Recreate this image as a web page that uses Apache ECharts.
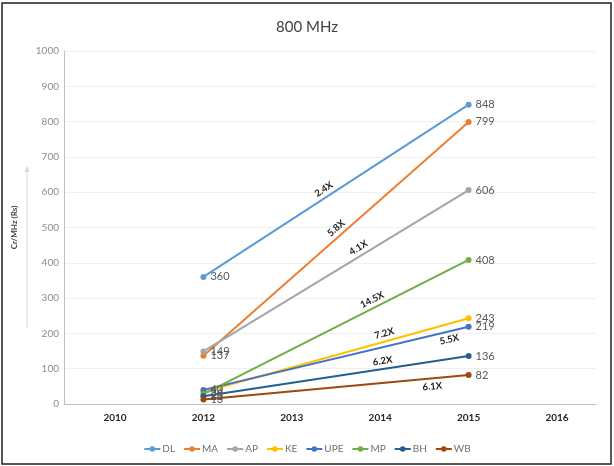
<!DOCTYPE html>
<html>
<head>
<meta charset="utf-8">
<script src="https://cdn.jsdelivr.net/npm/echarts@6/dist/echarts.min.js"></script>
<style>html,body{margin:0;padding:0;background:#fff}#c{width:614px;height:466px}</style>
</head>
<body>
<div id="c"></div>
<script>
// ---- data ----
const years = ['2010', '2012', '2013', '2014', '2015', '2016'];
const seriesNames = ['DL', 'MA', 'AP', 'KE', 'UPE', 'MP', 'BH', 'WB'];
const values2012 = [360, 137, 149, 34, 40, 28, 22, 13];
const values2015 = [848, 799, 606, 243, 219, 408, 136, 82];
const growthLabels = ['2.4X', '5.8X', '4.1X', '7.2X', '5.5X', '14.5X', '6.2X', '6.1X'];
const yTicks = [0, 100, 200, 300, 400, 500, 600, 700, 800, 900, 1000];

// ---- styling / placement (not data) ----
const colors = ['#5B9BD5', '#ED7D31', '#A5A5A5', '#FFC000', '#4472C4', '#70AD47', '#255E91', '#9E480E'];
const growthLabelAt = [0.47, 0.52, 0.6, 0.69, 0.92, 0.65, 0.68, 0.86];
const growthLabelBelow = [false, false, false, false, true, false, false, true];
const FONT = 'Lato, "Open Sans", sans-serif';

const i2012 = years.indexOf('2012');
const i2015 = years.indexOf('2015');

const series = seriesNames.map((name, k) => {
  const v0 = values2012[k], v1 = values2015[k];
  const t = growthLabelAt[k], d = 0.08;
  const p = tt => [i2012 + (i2015 - i2012) * tt, v0 + (v1 - v0) * tt];
  return {
    name,
    type: 'line',
    data: [[i2012, v0], [i2015, v1]],
    symbol: 'circle',
    symbolSize: 6,
    lineStyle: { width: 2, color: colors[k] },
    itemStyle: { color: colors[k] },
    label: {
      show: true, position: 'right', distance: 4,
      color: '#595959', fontSize: 11, fontFamily: FONT,
      formatter: pr => pr.value[1]
    },
    markLine: {
      silent: true,
      symbol: 'none',
      lineStyle: { color: 'rgba(0,0,0,0)', width: 1, type: 'solid' },
      label: {
        show: true,
        position: growthLabelBelow[k] ? 'insideMiddleBottom' : 'middle',
        formatter: growthLabels[k],
        color: '#1a1a1a', fontSize: 9.5, fontWeight: 'bold', fontFamily: FONT,
        distance: 3
      },
      data: [[{ coord: p(t - d) }, { coord: p(t + d) }]]
    }
  };
});

const chart = echarts.init(document.getElementById('c'), null, { renderer: 'canvas' });
chart.setOption({
  animation: false,
  color: colors,
  title: {
    text: '800 MHz', left: 'center', top: 15,
    textStyle: { fontSize: 15, fontWeight: 'normal', color: '#404040', fontFamily: FONT }
  },
  grid: { left: 64, right: 18, top: 51, bottom: 62, containLabel: false },
  xAxis: {
    type: 'value',
    min: -0.577, max: 5.441,
    splitLine: { show: false },
    axisLine: { show: true, onZero: false, lineStyle: { color: '#bfbfbf', width: 1 } },
    axisTick: { show: false },
    axisLabel: {
      customValues: years.map((y, i) => i),
      formatter: v => years[Math.round(v)] || '',
      color: '#262626', fontSize: 10, fontWeight: 'bold', fontFamily: FONT, margin: 9
    }
  },
  yAxis: {
    type: 'value', min: 0, max: 1000, interval: 100,
    name: 'Cr/MHz (Rs)', nameLocation: 'middle', nameGap: 46, nameRotate: 90,
    nameTextStyle: { fontSize: 8, fontWeight: 'bold', color: '#404040', fontFamily: FONT },
    axisLine: { show: true, onZero: false, lineStyle: { color: '#bfbfbf' } },
    axisTick: { show: false },
    splitLine: { lineStyle: { color: '#efefef' } },
    axisLabel: {
      customValues: yTicks,
      formatter: v => String(v),
      color: '#8c8c8c', fontSize: 10, fontFamily: FONT, margin: 5
    }
  },
  legend: {
    data: seriesNames, top: 439, left: 'center',
    itemWidth: 16, itemHeight: 7, itemGap: 8,
    textStyle: { color: '#6f6f6f', fontSize: 10, fontFamily: FONT, padding: [0, 0, 0, -3] }
  },
  graphic: [
    { type: 'rect', shape: { x: 2, y: 3, width: 609, height: 461 }, style: { fill: 'none', stroke: '#222', lineWidth: 1.5 }, silent: true },
    { type: 'line', shape: { x1: 27, y1: 328, x2: 27, y2: 170 }, style: { stroke: '#d9d9d9', lineWidth: 1 }, silent: true },
    { type: 'polygon', shape: { points: [[24.5, 172], [29.5, 172], [27, 166]] }, style: { fill: '#d9d9d9' }, silent: true }
  ],
  series
});
</script>
</body>
</html>
